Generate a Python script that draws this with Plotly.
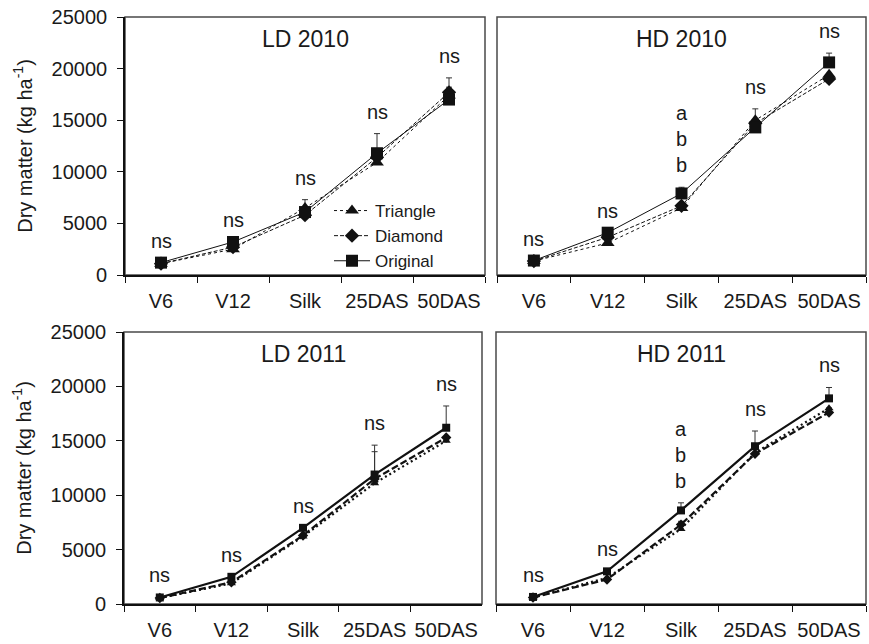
import plotly.graph_objects as go

# Growth stages (x categories)
stages = ["V6", "V12", "Silk", "25DAS", "50DAS"]

# Dry matter (kg/ha) by treatment for each site-year
ld2010_triangle = [1100, 2500, 6500, 10900, 17400]
ld2010_diamond = [1100, 2700, 5800, 11400, 17700]
ld2010_original = [1200, 3200, 6100, 11800, 17000]
ld2010_triangle_err = [0, 0, 800, 0, 800]
ld2010_diamond_err = [0, 0, 0, 0, 1400]
ld2010_original_err = [0, 0, 0, 1900, 0]

hd2010_triangle = [1350, 3100, 6500, 15000, 19400]
hd2010_diamond = [1350, 3650, 6700, 14700, 19000]
hd2010_original = [1400, 4100, 7900, 14300, 20600]
hd2010_triangle_err = [0, 0, 0, 1100, 0]
hd2010_diamond_err = [0, 0, 0, 0, 0]
hd2010_original_err = [0, 0, 600, 0, 900]

ld2011_triangle = [550, 1900, 6200, 11100, 15000]
ld2011_diamond = [550, 2000, 6300, 11500, 15300]
ld2011_original = [600, 2500, 7000, 11900, 16200]
ld2011_triangle_err = [0, 0, 0, 0, 0]
ld2011_diamond_err = [0, 0, 0, 2500, 0]
ld2011_original_err = [0, 0, 0, 2700, 2000]

hd2011_triangle = [600, 2400, 6900, 13900, 18000]
hd2011_diamond = [600, 2250, 7300, 13800, 17600]
hd2011_original = [650, 3000, 8600, 14500, 18900]
hd2011_triangle_err = [0, 0, 700, 0, 0]
hd2011_diamond_err = [0, 0, 0, 0, 0]
hd2011_original_err = [0, 0, 700, 1400, 1000]

# Mean separation letters above each stage
ld2010_letters = ["ns", "ns", "ns", "ns", "ns"]
hd2010_letters = ["ns", "ns", "a<br>b<br>b", "ns", "ns"]
ld2011_letters = ["ns", "ns", "ns", "ns", "ns"]
hd2011_letters = ["ns", "ns", "a<br>b<br>b", "ns", "ns"]

panel_titles = ["LD 2010", "HD 2010", "LD 2011", "HD 2011"]
series_names = ["Triangle", "Diamond", "Original"]
y_ticks = [0, 5000, 10000, 15000, 20000, 25000]
y_tick_labels = ["0", "5000", "10000", "15000", "20000", "25000"]

FONT = "Liberation Sans, Arial, sans-serif"
W, H = 869, 644

# panel pixel boxes: (left, right, top, bottom)
boxes = [(125, 485, 17, 275), (497, 866, 17, 275),
         (124, 482, 332, 604), (496, 866, 332, 604)]

panels = [
    (ld2010_triangle, ld2010_diamond, ld2010_original,
     ld2010_triangle_err, ld2010_diamond_err, ld2010_original_err, ld2010_letters),
    (hd2010_triangle, hd2010_diamond, hd2010_original,
     hd2010_triangle_err, hd2010_diamond_err, hd2010_original_err, hd2010_letters),
    (ld2011_triangle, ld2011_diamond, ld2011_original,
     ld2011_triangle_err, ld2011_diamond_err, ld2011_original_err, ld2011_letters),
    (hd2011_triangle, hd2011_diamond, hd2011_original,
     hd2011_triangle_err, hd2011_diamond_err, hd2011_original_err, hd2011_letters),
]

fig = go.Figure()
layout = {}
annotations = []
shapes = []

for i, (tri, dia, ori, tri_e, dia_e, ori_e, letters) in enumerate(panels):
    n = i + 1
    xa = "x" if n == 1 else f"x{n}"
    ya = "y" if n == 1 else f"y{n}"
    xkey = "xaxis" if n == 1 else f"xaxis{n}"
    ykey = "yaxis" if n == 1 else f"yaxis{n}"
    top_row = i < 2
    lw = 1 if top_row else 2.2
    msize = {"Triangle": 12, "Diamond": 11, "Original": 12} if top_row else \
        {"Triangle": 8, "Diamond": 8, "Original": 8}
    styles = {
        "Triangle": dict(dash="dot" if top_row else "2px,3px", symbol="triangle-up"),
        "Diamond": dict(dash="4px,2px" if top_row else "7px,3px", symbol="diamond"),
        "Original": dict(dash="solid", symbol="square"),
    }
    for name, vals, errs in zip(series_names, (tri, dia, ori), (tri_e, dia_e, ori_e)):
        st = styles[name]
        fig.add_trace(go.Scatter(
            x=stages, y=vals, xaxis=xa, yaxis=ya, name=name,
            mode="lines+markers",
            line=dict(color="#111", width=lw, dash=st["dash"]),
            marker=dict(symbol=st["symbol"], size=msize[name], color="#111",
                        line=dict(width=0)),
            error_y=dict(type="data", array=errs, arrayminus=[0] * 5,
                         symmetric=False, color="#333", thickness=1, width=3),
            showlegend=(n == 1),
        ))

    l, r, t, b = boxes[i]
    layout[xkey] = dict(
        domain=[l / W, r / W], anchor=ya, type="category",
        categoryorder="array", categoryarray=stages,
        range=[-0.5, 4.5], tickson="boundaries", tickangle=0,
        ticks="outside", ticklen=6, tickwidth=1.2, tickcolor="#111",
        showline=True, linecolor="#111", linewidth=1.6,
        showgrid=False, zeroline=False, ticklabelstandoff=7,
        tickfont=dict(family=FONT, size=20, color="#1a1a1a"),
        automargin=False, fixedrange=True,
    )
    left_col = (i % 2 == 0)
    layout[ykey] = dict(
        domain=[1 - b / H, 1 - t / H], anchor=xa, range=[0, 25000],
        tickvals=y_ticks if left_col else [],
        ticktext=y_tick_labels if left_col else [],
        ticks="outside" if left_col else "", ticklen=6, tickwidth=1.2,
        tickcolor="#111",
        showticklabels=left_col, showline=left_col,
        linecolor="#111", linewidth=1.6,
        showgrid=False, zeroline=False, ticklabelstandoff=6,
        tickfont=dict(family=FONT, size=20, color="#1a1a1a"),
        automargin=False, fixedrange=True,
    )
    if left_col:
        layout[ykey]["title"] = dict(
            text="Dry matter (kg ha<sup>-1</sup>)", standoff=14,
            font=dict(family=FONT, size=20, color="#1a1a1a"))

    # panel frame
    shapes.append(dict(type="rect", xref=f"{xa} domain", yref=f"{ya} domain",
                       x0=0, x1=1, y0=0, y1=1, layer="below",
                       line=dict(color="#4a4a4a", width=1.5)))
    # panel title
    annotations.append(dict(text=panel_titles[i], xref=f"{xa} domain",
                            yref=f"{ya} domain", x=0.5, y=1, yanchor="middle",
                            yshift=-22, showarrow=False,
                            font=dict(family=FONT, size=23, color="#1a1a1a")))
    # significance letters above the highest mark at each stage
    for k, stage in enumerate(stages):
        top = max(tri[k] + tri_e[k], dia[k] + dia_e[k], ori[k] + ori_e[k])
        annotations.append(dict(text=letters[k], xref=xa, yref=ya, x=stage,
                                y=top, yanchor="bottom", yshift=9,
                                showarrow=False,
                                font=dict(family=FONT, size=20, color="#1a1a1a")))

fig.update_layout(
    width=W, height=H, margin=dict(l=0, r=0, t=0, b=0),
    paper_bgcolor="white", plot_bgcolor="white",
    annotations=annotations, shapes=shapes,
    legend=dict(x=329 / W, y=1 - 193 / H, xanchor="left", yanchor="top",
                bgcolor="rgba(0,0,0,0)", itemwidth=36, tracegroupgap=0,
                font=dict(family=FONT, size=17, color="#1a1a1a")),
    **layout,
)

fig.write_html("out.html")
